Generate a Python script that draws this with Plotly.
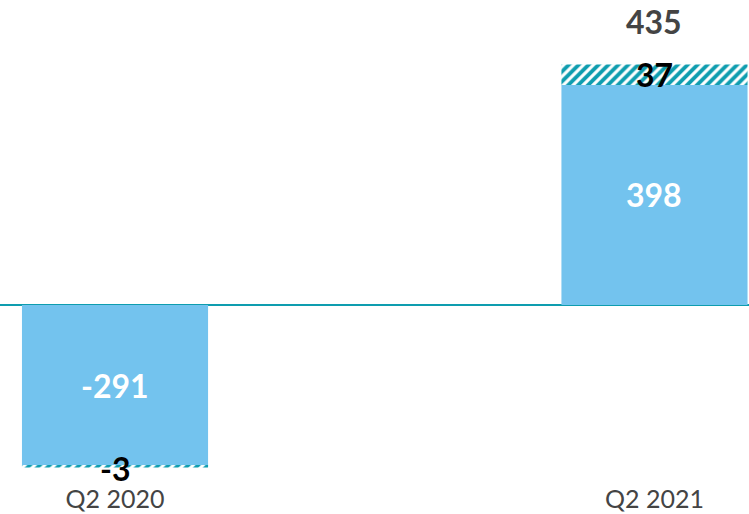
import plotly.graph_objects as go

categories = ["Q2 2020", "Q2 2021"]
base_values = [-291, 398]
extra_values = [-3, 37]
totals = [None, 435]

BLUE = "#73C3EE"
TEAL = "#0E9DAF"
FONT = "Lato"

fig = go.Figure()
fig.add_trace(go.Bar(x=categories, y=base_values, width=0.345,
                     marker=dict(color=BLUE, line=dict(width=0)), showlegend=False,
                     hoverinfo="skip"))
fig.add_trace(go.Bar(x=categories, y=extra_values, width=0.345,
                     marker=dict(color="white", line=dict(width=0),
                                 pattern=dict(shape="/", fgcolor=TEAL, bgcolor="white",
                                              fgopacity=1, size=7, solidity=0.55)),
                     showlegend=False, hoverinfo="skip"))

for c, b in zip(categories, base_values):
    fig.add_annotation(x=c, y=b / 2, text=f"<b>{b}</b>", showarrow=False,
                       font=dict(family=FONT, size=32, color="white"))
for c, b, e in zip(categories, base_values, extra_values):
    yy = b + e / 2
    if e < 0:
        yy = b + e - 2
    fig.add_annotation(x=c, y=yy, text=f"<b>{e}</b>", showarrow=False,
                       font=dict(family=FONT, size=32, color="#000000"))
for c, t in zip(categories, totals):
    if t is not None:
        fig.add_annotation(x=c, y=t, text=f"<b>{t}</b>", showarrow=False, yshift=43,
                           font=dict(family=FONT, size=32, color="#444444"))

fig.update_layout(
    barmode="relative",
    width=749, height=514,
    margin=dict(l=0, r=0, t=0, b=32),
    plot_bgcolor="white", paper_bgcolor="white",
    xaxis=dict(range=[-0.2132, 1.1752], showgrid=False, showline=False, ticks="",
               tickfont=dict(family=FONT, size=25, color="#444444")),
    yaxis=dict(range=[-320.0, 551.5], showgrid=False, showticklabels=False,
               zeroline=True, zerolinecolor=TEAL, zerolinewidth=2),
)
fig.write_html("out.html", config={"displayModeBar": False},
               post_script="document.body.style.margin='0';document.body.style.overflow='hidden';")
